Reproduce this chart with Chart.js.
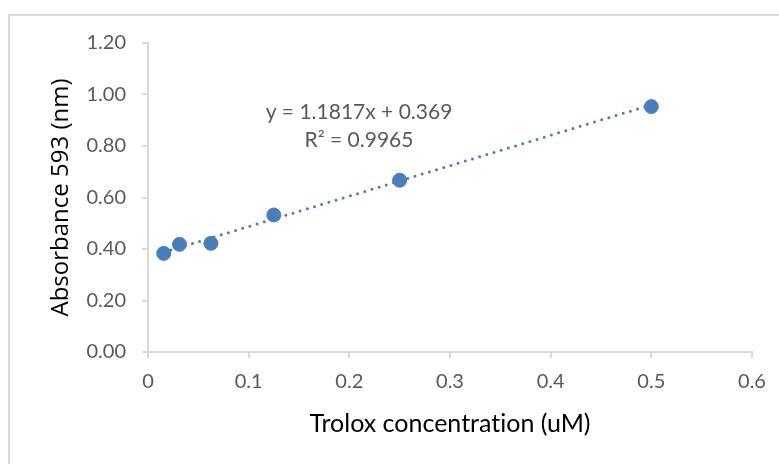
<!DOCTYPE html>
<html lang="en">
<head>
  <meta charset="UTF-8">
  <title>Trolox standard curve</title>
  <style>
    body {
      margin: 0;
      background: #fff;
      overflow: hidden;
    }

    .frame {
      position: absolute;
      left: 8px;
      top: 14px;
      width: 800px;
      height: 500px;
      border: 2px solid #d9d9d9;
    }

    .wrap {
      position: absolute;
      left: 0;
      top: 0;
      width: 779px;
      height: 464px;
    }
  </style>
  <script src="https://cdn.jsdelivr.net/npm/chart.js"></script>
</head>
<body>
  <div class="frame"></div>
  <div class="wrap">
    <canvas id="chart" width="779" height="464"></canvas>
  </div>

  <script>
    // Trolox standards (uM) and absorbance readings
    const concentrations = [0.015625, 0.03125, 0.0625, 0.125, 0.25, 0.5];
    const absorbance = [0.383, 0.418, 0.422, 0.532, 0.667, 0.953];

    // linear trendline as printed on the chart
    const slope = 1.1817;
    const intercept = 0.369;
    const equationText = "y = 1.1817x + 0.369";
    const r2Text = "R\u00b2 = 0.9965";

    const xTicks = [0, 0.1, 0.2, 0.3, 0.4, 0.5, 0.6];
    const yTicks = [0, 0.2, 0.4, 0.6, 0.8, 1.0, 1.2];

    const blue = "#4a7ebb";
    const axisGrey = "#d9d9d9";
    const labelGrey = "#595959";

    const trendPoints = [concentrations[0], concentrations[concentrations.length - 1]]
      .map(x => ({ x: x, y: slope * x + intercept }));

    // equation label, placed in data space
    const equationLabel = {
      id: "equationLabel",
      afterDatasetsDraw(chart) {
        const { ctx, scales } = chart;
        const cx = scales.x.getPixelForValue(0.2096);
        ctx.save();
        ctx.fillStyle = labelGrey;
        ctx.font = "21px Lato";
        ctx.textAlign = "center";
        ctx.textBaseline = "middle";
        ctx.fillText(equationText, cx, scales.y.getPixelForValue(0.932));
        ctx.fillText(r2Text, cx, scales.y.getPixelForValue(0.823));
        ctx.restore();
      }
    };

    new Chart(document.getElementById("chart"), {
      type: "scatter",
      data: {
        datasets: [
          {
            label: "Trendline",
            data: trendPoints,
            showLine: true,
            borderColor: blue,
            borderWidth: 3,
            borderDash: [0, 7.5],
            borderCapStyle: "round",
            pointRadius: 0,
            order: 2
          },
          {
            label: "Absorbance",
            data: concentrations.map((x, i) => ({ x: x, y: absorbance[i] })),
            backgroundColor: blue,
            borderColor: blue,
            pointRadius: 7,
            order: 1
          }
        ]
      },
      options: {
        responsive: false,
        animation: false,
        layout: { padding: { top: 43, right: 27, bottom: 0, left: 0 } },
        plugins: {
          legend: { display: false },
          tooltip: { enabled: false }
        },
        scales: {
          x: {
            type: "linear",
            min: 0,
            max: 0.6,
            afterBuildTicks: scale => { scale.ticks = xTicks.map(v => ({ value: v })); },
            afterFit: scale => { scale.height = 112; },
            border: { color: axisGrey, width: 2 },
            grid: { drawOnChartArea: false, color: axisGrey, lineWidth: 2, tickLength: 6 },
            ticks: {
              color: labelGrey,
              font: { family: "Lato", size: 20 },
              padding: 12,
              maxRotation: 0,
              callback: v => String(v)
            },
            title: {
              display: true,
              text: "Trolox concentrat\u200Cion (uM)",
              color: "#000",
              font: { family: "Lato", size: 25 },
              padding: { bottom: 25 }
            }
          },
          y: {
            min: 0,
            max: 1.2,
            afterBuildTicks: scale => { scale.ticks = yTicks.map(v => ({ value: v })); },
            afterFit: scale => { scale.width = 148; },
            border: { color: axisGrey, width: 2 },
            grid: { drawOnChartArea: false, color: axisGrey, lineWidth: 2, tickLength: 6 },
            ticks: {
              color: labelGrey,
              font: { family: "Lato", size: 20 },
              padding: 16,
              callback: v => v.toFixed(2)
            },
            title: {
              display: true,
              text: "Absorbance 593 (nm)",
              color: "#000",
              font: { family: "Open Sans", size: 24 },
              padding: { top: 47 }
            }
          }
        }
      },
      plugins: [equationLabel]
    });
  </script>
</body>
</html>
